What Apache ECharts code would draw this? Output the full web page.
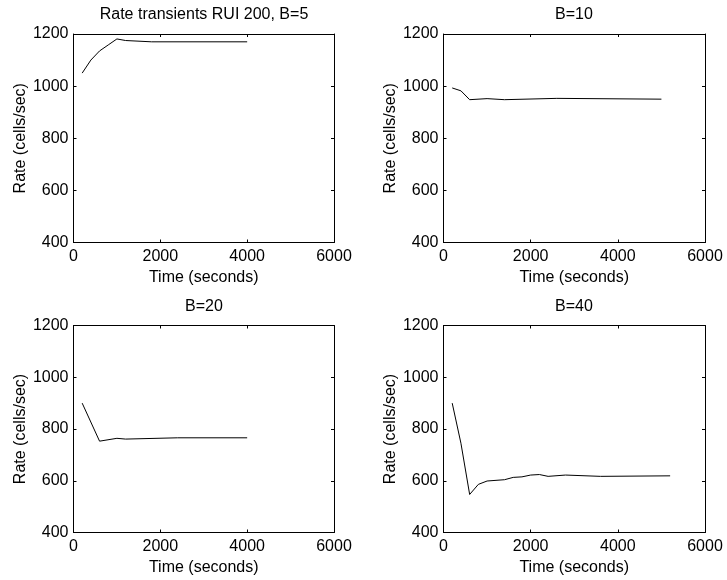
<!DOCTYPE html>
<html>
<head>
<meta charset="utf-8">
<script src="https://cdn.jsdelivr.net/npm/echarts@6/dist/echarts.min.js"></script>
<style>html,body{margin:0;padding:0;background:#fff}#c{width:727px;height:580px}</style>
</head>
<body>
<div id="c"></div>
<script>
var titles = ['Rate transients RUI 200, B=5', 'B=10', 'B=20', 'B=40'];
var xName = 'Time (seconds)';
var yName = 'Rate (cells/sec)';

var t5  = [200, 400, 600, 800, 1000, 1200, 1800, 4000];
var r5  = [1050, 1100, 1135, 1158, 1181, 1175, 1170, 1170];
var t10 = [200, 400, 600, 1000, 1400, 2600, 5000];
var r10 = [993, 982, 948, 952, 948, 953, 950];
var t20 = [200, 600, 1000, 1200, 2400, 4000];
var r20 = [900, 753, 764, 761, 766, 766];
var t40 = [200, 400, 600, 800, 1000, 1400, 1600, 1800, 2000, 2200, 2400, 2800, 3600, 5200];
var r40 = [900, 745, 547, 586, 599, 604, 613, 615, 622, 624, 617, 622, 617, 619];

var xTicks = {min: 0, max: 6000, interval: 2000};
var yTicks = {min: 400, max: 1200, interval: 200};

var times = [t5, t10, t20, t40];
var rates = [r5, r10, r20, r40];

function pairs(t, r) { return t.map(function (v, i) { return [v, r[i]]; }); }
function plain(v) { return String(v); }

var FONT = 'Liberation Sans, Arial, Helvetica, sans-serif';
var grids = [
  {left: 73.5, top: 34, width: 260.5, height: 208.5},
  {left: 443.5, top: 34, width: 261.5, height: 208.5},
  {left: 73.5, top: 325.5, width: 260.5, height: 207},
  {left: 443.5, top: 325.5, width: 261.5, height: 207}
];
var titleCenters = [[204, 7], [574, 7], [204, 298.5], [574, 298.5]];

var lineStyle = {color: '#000', width: 1};
var xAxes = [], yAxes = [], series = [], titleArr = [];
grids.forEach(function (g, i) {
  xAxes.push({
    type: 'value', gridIndex: i, position: 'bottom', min: xTicks.min, max: xTicks.max, interval: xTicks.interval,
    name: xName, nameLocation: 'middle', nameGap: 27,
    nameTextStyle: {color: '#000', fontSize: 16, fontFamily: FONT},
    axisLine: {show: true, onZero: false, lineStyle: lineStyle},
    axisTick: {show: true, inside: true, length: 3, lineStyle: lineStyle},
    axisLabel: {color: '#000', fontSize: 16, fontFamily: FONT, margin: 6, formatter: plain},
    splitLine: {show: false}
  });
  xAxes.push({
    type: 'value', gridIndex: i, position: 'top', min: xTicks.min, max: xTicks.max, interval: xTicks.interval,
    axisLine: {show: true, onZero: false, lineStyle: lineStyle},
    axisTick: {show: true, inside: true, length: 3, lineStyle: lineStyle},
    axisLabel: {show: false}, splitLine: {show: false}
  });
  yAxes.push({
    type: 'value', gridIndex: i, position: 'left', min: yTicks.min, max: yTicks.max, interval: yTicks.interval,
    name: yName, nameLocation: 'middle', nameGap: 45,
    nameTextStyle: {color: '#000', fontSize: 16, fontFamily: FONT},
    axisLine: {show: true, onZero: false, lineStyle: lineStyle},
    axisTick: {show: true, inside: true, length: 3, lineStyle: lineStyle},
    axisLabel: {color: '#000', fontSize: 16, fontFamily: FONT, margin: 5, formatter: plain},
    splitLine: {show: false}
  });
  yAxes.push({
    type: 'value', gridIndex: i, position: 'right', min: yTicks.min, max: yTicks.max, interval: yTicks.interval,
    axisLine: {show: true, onZero: false, lineStyle: lineStyle},
    axisTick: {show: true, inside: true, length: 3, lineStyle: lineStyle},
    axisLabel: {show: false}, splitLine: {show: false}
  });
  series.push({
    type: 'line', xAxisIndex: 2 * i, yAxisIndex: 2 * i, data: pairs(times[i], rates[i]),
    symbol: 'none', lineStyle: {color: '#000', width: 1}, silent: true
  });
  titleArr.push({
    text: titles[i], left: titleCenters[i][0], top: titleCenters[i][1], textAlign: 'center', padding: 0,
    textStyle: {color: '#000', fontSize: 16, fontWeight: 'normal', fontFamily: FONT}
  });
});

var chart = echarts.init(document.getElementById('c'), null, {renderer: 'canvas'});
chart.setOption({
  animation: false,
  backgroundColor: '#fff',
  title: titleArr,
  grid: grids,
  xAxis: xAxes,
  yAxis: yAxes,
  series: series
});
</script>
</body>
</html>
